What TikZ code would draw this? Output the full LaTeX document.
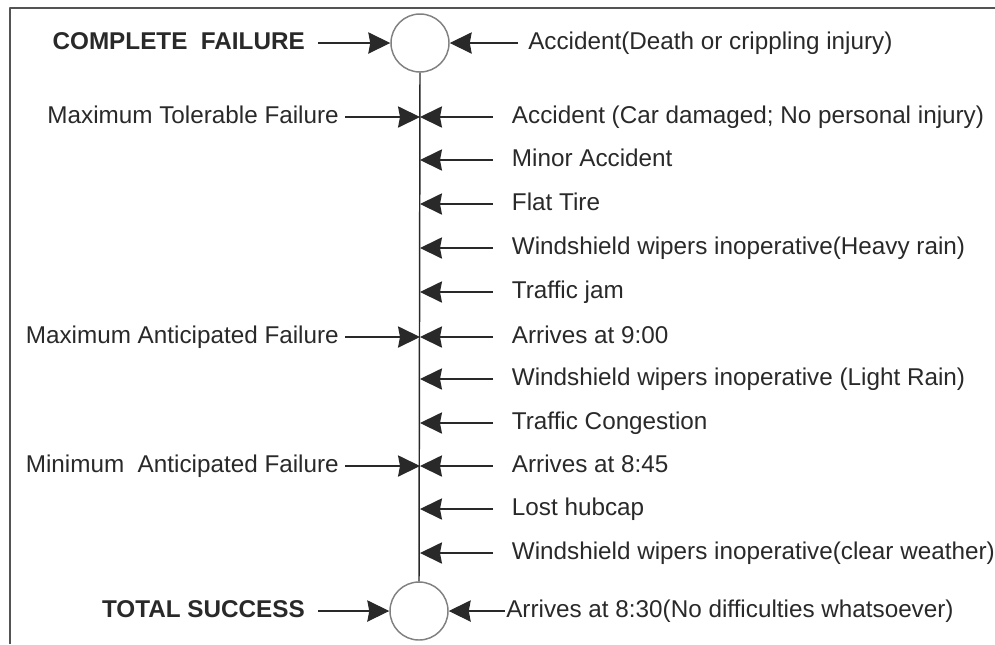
\documentclass[tikz,border=0pt]{standalone}
\usepackage{fontspec}
\setmainfont{Liberation Sans}
\usetikzlibrary{arrows.meta}
\begin{document}
\begin{tikzpicture}[x=0.75pt,y=-0.75pt,line join=round,font=\fontsize{18.2}{21}\selectfont]
            \definecolor{inkgray}{rgb}{0.16, 0.16, 0.16}
            \definecolor{ringgray}{rgb}{0.50, 0.50, 0.50}
            \tikzset{
                arr/.style={draw=inkgray, line width=0.8pt,
                    -{Stealth[length=16.5pt, width=16pt, inset=1.5pt]}},
                effect/.style={anchor=west, text=inkgray, inner xsep=14pt, inner ysep=0pt,
                    text height=1.1em, text depth=0.2em},
                level/.style={anchor=east, text=inkgray, inner xsep=4.5pt, inner ysep=0pt,
                    text height=1.1em, text depth=0.2em},
                ring/.style={circle, draw=ringgray, line width=1.1pt, minimum size=43.5pt, inner sep=0pt}
            }
            \useasboundingbox (0,0) rectangle (995,644);
            % frame
            \draw[inkgray!80, line width=1.5pt] (10,644) -- (10,8) -- (995,8);
            % end states
            \node[ring] (cf) at (420,43) {};
            \node[ring] (ts) at (419,611) {};
            \draw[inkgray, line width=1.1pt] (cf.south) -- (ts.north);
            \node[level, font=\bfseries\fontsize{18.2}{21}\selectfont, inner xsep=9.75pt] (cfl) at (318,43) {COMPLETE\ \ FAILURE};
            \node[level, font=\bfseries\fontsize{18.2}{21}\selectfont, inner xsep=9.75pt] (tsl) at (318,611) {TOTAL SUCCESS};
            \node[effect, inner xsep=7.5pt] (cfr) at (518,43) {Accident(Death or crippling injury)};
            \node[effect, inner xsep=0.75pt] (tsr) at (505,611) {Arrives at 8:30(No difficulties whatsoever)};
            \draw[arr] (cfl.east) -- (cf.west);
            \draw[arr] (cfr.west) -- (cf.east);
            \draw[arr] (tsl.east) -- (ts.west);
            \draw[arr] (tsr.west) -- (ts.east);
            % intermediate outcomes
            \foreach \y/\txt [count=\i] in {
                117/{Accident (Car damaged; No personal injury)},
                160/{Minor Accident},
                204/{Flat Tire},
                248/{Windshield wipers inoperative(Heavy rain)},
                292/{Traffic jam},
                337/{Arrives at 9:00},
                379/{Windshield wipers inoperative (Light Rain)},
                423/{Traffic Congestion},
                466/{Arrives at 8:45},
                509/{Lost hubcap},
                553/{Windshield wipers inoperative(clear weather)}}{
                \coordinate (p\i) at (420,\y);
                \node[effect] (e\i) at (493,\y) {\txt};
                \draw[arr] (e\i.west) -- (p\i);
            }
            % failure levels
            \foreach \i/\txt in {
                1/{Maximum Tolerable Failure},
                6/{Maximum Anticipated Failure},
                9/{Minimum\ \ Anticipated Failure}}{
                \node[level] (l\i) at ([xshift=-56.25pt]p\i) {\txt};
                \draw[arr] (l\i.east) -- (p\i);
            }
\end{tikzpicture}
\end{document}
